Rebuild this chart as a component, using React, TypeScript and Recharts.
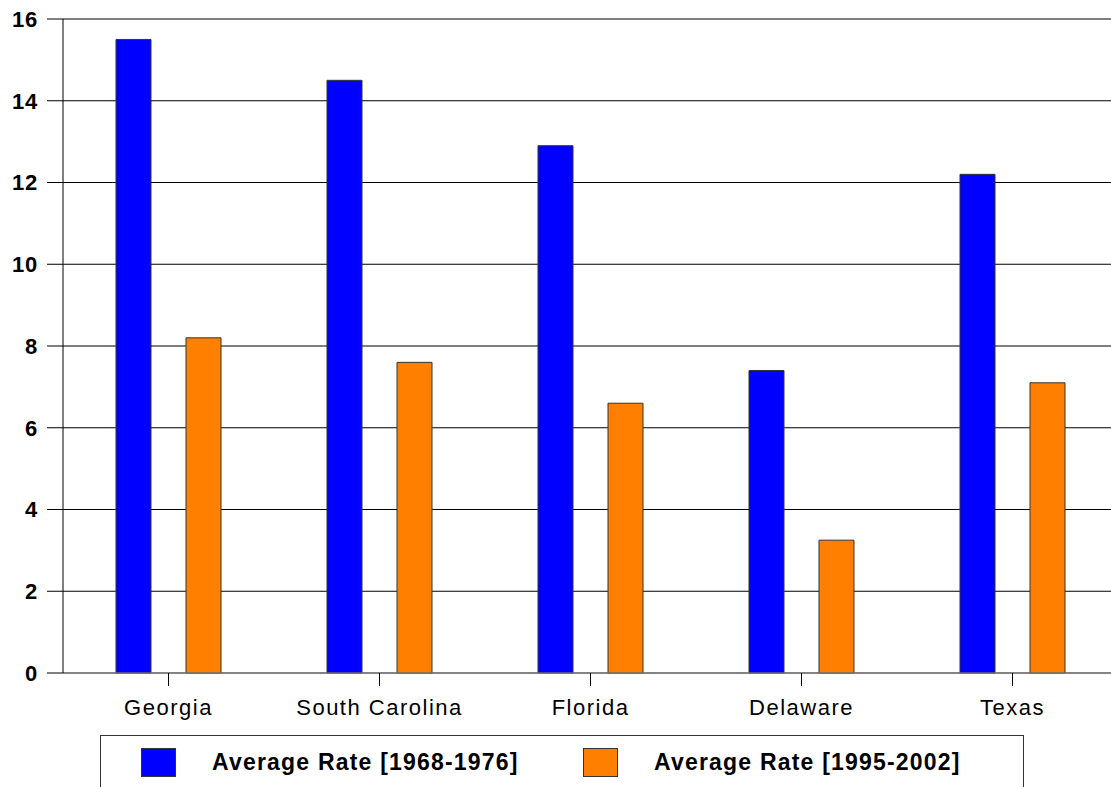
import { Bar, BarChart, CartesianGrid, XAxis, YAxis } from "recharts";

const states = ["Georgia", "South Carolina", "Florida", "Delaware", "Texas"];
const rate1968to1976 = [15.5, 14.5, 12.9, 7.4, 12.2];
const rate1995to2002 = [8.2, 7.6, 6.6, 3.25, 7.1];
const yTicks = [0, 2, 4, 6, 8, 10, 12, 14, 16];

const seriesNames = ["Average Rate [1968-1976]", "Average Rate [1995-2002]"];
const BLUE = "#0000ff";
const ORANGE = "#ff8000";

const data = states.map((state, i) => ({
  state,
  early: rate1968to1976[i],
  late: rate1995to2002[i],
}));

const font = "'Liberation Sans', Arial, sans-serif";

function LegendBox() {
  const items = [
    { name: seriesNames[0], color: BLUE, left: 40 },
    { name: seriesNames[1], color: ORANGE, left: 482 },
  ];
  return (
    <div
      style={{
        position: "absolute",
        left: 100,
        top: 735,
        width: 924,
        height: 70,
        border: "1px solid #333",
        boxSizing: "border-box",
        fontFamily: font,
      }}
    >
      {items.map((it) => (
        <div key={it.name}>
          <div
            style={{
              position: "absolute",
              left: it.left,
              top: 12,
              width: 35,
              height: 29,
              background: it.color,
              border: "1px solid #333",
              boxSizing: "border-box",
            }}
          />
          <div
            style={{
              position: "absolute",
              left: it.left + 71,
              top: 12,
              fontSize: 23,
              fontWeight: "bold",
              letterSpacing: 1.2,
              lineHeight: "29px",
              whiteSpace: "nowrap",
            }}
          >
            {it.name}
          </div>
        </div>
      ))}
    </div>
  );
}

export default function App() {
  return (
    <div
      style={{
        position: "absolute",
        left: 0,
        top: 0,
        width: 1111,
        height: 787,
        background: "#fff",
        overflow: "hidden",
      }}
    >
      <BarChart
        width={1118}
        height={787}
        data={data}
        margin={{ top: 19, right: 0, left: 0, bottom: 64 }}
        barSize={35}
        barGap={35}
      >
        <CartesianGrid vertical={false} stroke="#000" strokeWidth={1.2} />
        <XAxis
          dataKey="state"
          height={50}
          stroke="#888"
          tickSize={13}
          tickMargin={13}
          tick={{ fill: "#000", fontSize: 22, letterSpacing: 1.5, fontFamily: font }}
          tickLine={{ stroke: "#000" }}
          interval={0}
        />
        <YAxis
          width={63}
          domain={[0, 16]}
          ticks={yTicks}
          stroke="#000"
          tickSize={16}
          tickMargin={9}
          tick={{
            fill: "#000",
            fontSize: 22,
            fontWeight: "bold",
            letterSpacing: 0.8,
            fontFamily: font,
          }}
        />
        <Bar
          dataKey="early"
          name={seriesNames[0]}
          fill={BLUE}
          stroke="#333"
          strokeWidth={1}
          isAnimationActive={false}
        />
        <Bar
          dataKey="late"
          name={seriesNames[1]}
          fill={ORANGE}
          stroke="#333"
          strokeWidth={1}
          isAnimationActive={false}
        />
      </BarChart>
      <LegendBox />
    </div>
  );
}
